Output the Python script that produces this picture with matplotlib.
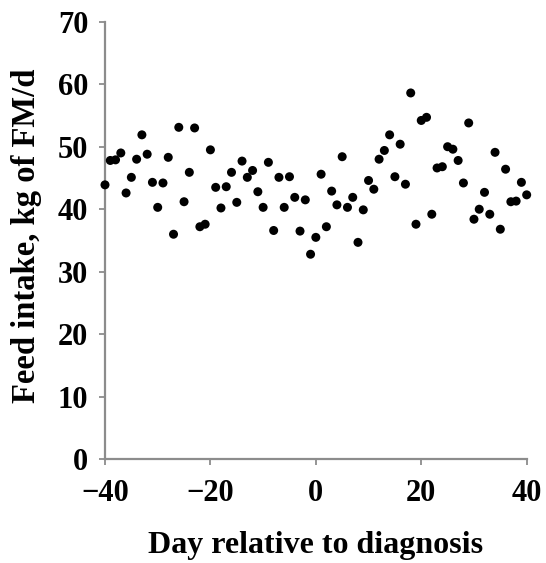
import matplotlib
matplotlib.use("Agg")
import matplotlib.pyplot as plt

# daily feed intake around the day of diagnosis
days = list(range(-40, 41))
intake = [
    43.9, 47.8, 47.9, 49.0, 42.6, 45.1, 48.0, 51.9, 48.8, 44.3,   # -40 .. -31
    40.3, 44.2, 48.3, 36.0, 53.1, 41.2, 45.9, 53.0, 37.2, 37.6,   # -30 .. -21
    49.5, 43.5, 40.2, 43.6, 45.9, 41.1, 47.7, 45.1, 46.2, 42.8,   # -20 .. -11
    40.3, 47.5, 36.6, 45.1, 40.3, 45.2, 41.9, 36.5, 41.5, 32.8,   # -10 .. -1
    35.5,                                                         # 0
    45.6, 37.2, 42.9, 40.7, 48.4, 40.3, 41.9, 34.7, 39.9, 44.6,   # 1 .. 10
    43.2, 48.0, 49.4, 51.9, 45.2, 50.4, 44.0, 58.6, 37.6, 54.2,   # 11 .. 20
    54.7, 39.2, 46.6, 46.8, 50.0, 49.6, 47.8, 44.2, 53.8, 38.4,   # 21 .. 30
    40.0, 42.7, 39.2, 49.1, 36.8, 46.4, 41.2, 41.3, 44.3, 42.3,   # 31 .. 40
]
x_ticks = [-40, -20, 0, 20, 40]
x_tick_labels = ["\u221240", "\u221220", "0", "20", "40"]
y_ticks = [0, 10, 20, 30, 40, 50, 60, 70]

plt.rcParams['font.family'] = ['Liberation Serif', 'DejaVu Serif']
plt.rcParams['font.weight'] = 'bold'

fig = plt.figure(figsize=(5.46, 5.63), dpi=100)
ax = fig.add_axes([0.1923, 0.1842, 0.7723, 0.7773])

ax.scatter(days, intake, s=42, color='black', edgecolors='none', zorder=3, clip_on=False)

ax.set_xlim(-40, 40)
ax.set_ylim(0, 70)
ax.set_xticks(x_ticks)
ax.set_xticklabels(x_tick_labels)
ax.set_yticks(y_ticks)

for side in ['top', 'right']:
    ax.spines[side].set_visible(False)
for side in ['left', 'bottom']:
    ax.spines[side].set_color('#8c8c8c')
    ax.spines[side].set_linewidth(1.6)

ax.tick_params(axis='both', direction='out', length=4, width=1.3, color='#8c8c8c',
               labelsize=22)
ax.tick_params(axis='x', pad=10)
ax.tick_params(axis='y', pad=8)
for lbl in ax.get_xticklabels() + ax.get_yticklabels():
    lbl.set_fontweight('bold')

ax.set_xlabel('Day relative to diagnosis', fontsize=23, fontweight='bold', va='center')
ax.set_ylabel('Feed intake, kg of FM/d', fontsize=23.5, fontweight='bold', va='center')
ax.xaxis.set_label_coords(0.5, -0.198)
ax.yaxis.set_label_coords(-0.185, 0.51)

fig.savefig('out.png', dpi=100)
